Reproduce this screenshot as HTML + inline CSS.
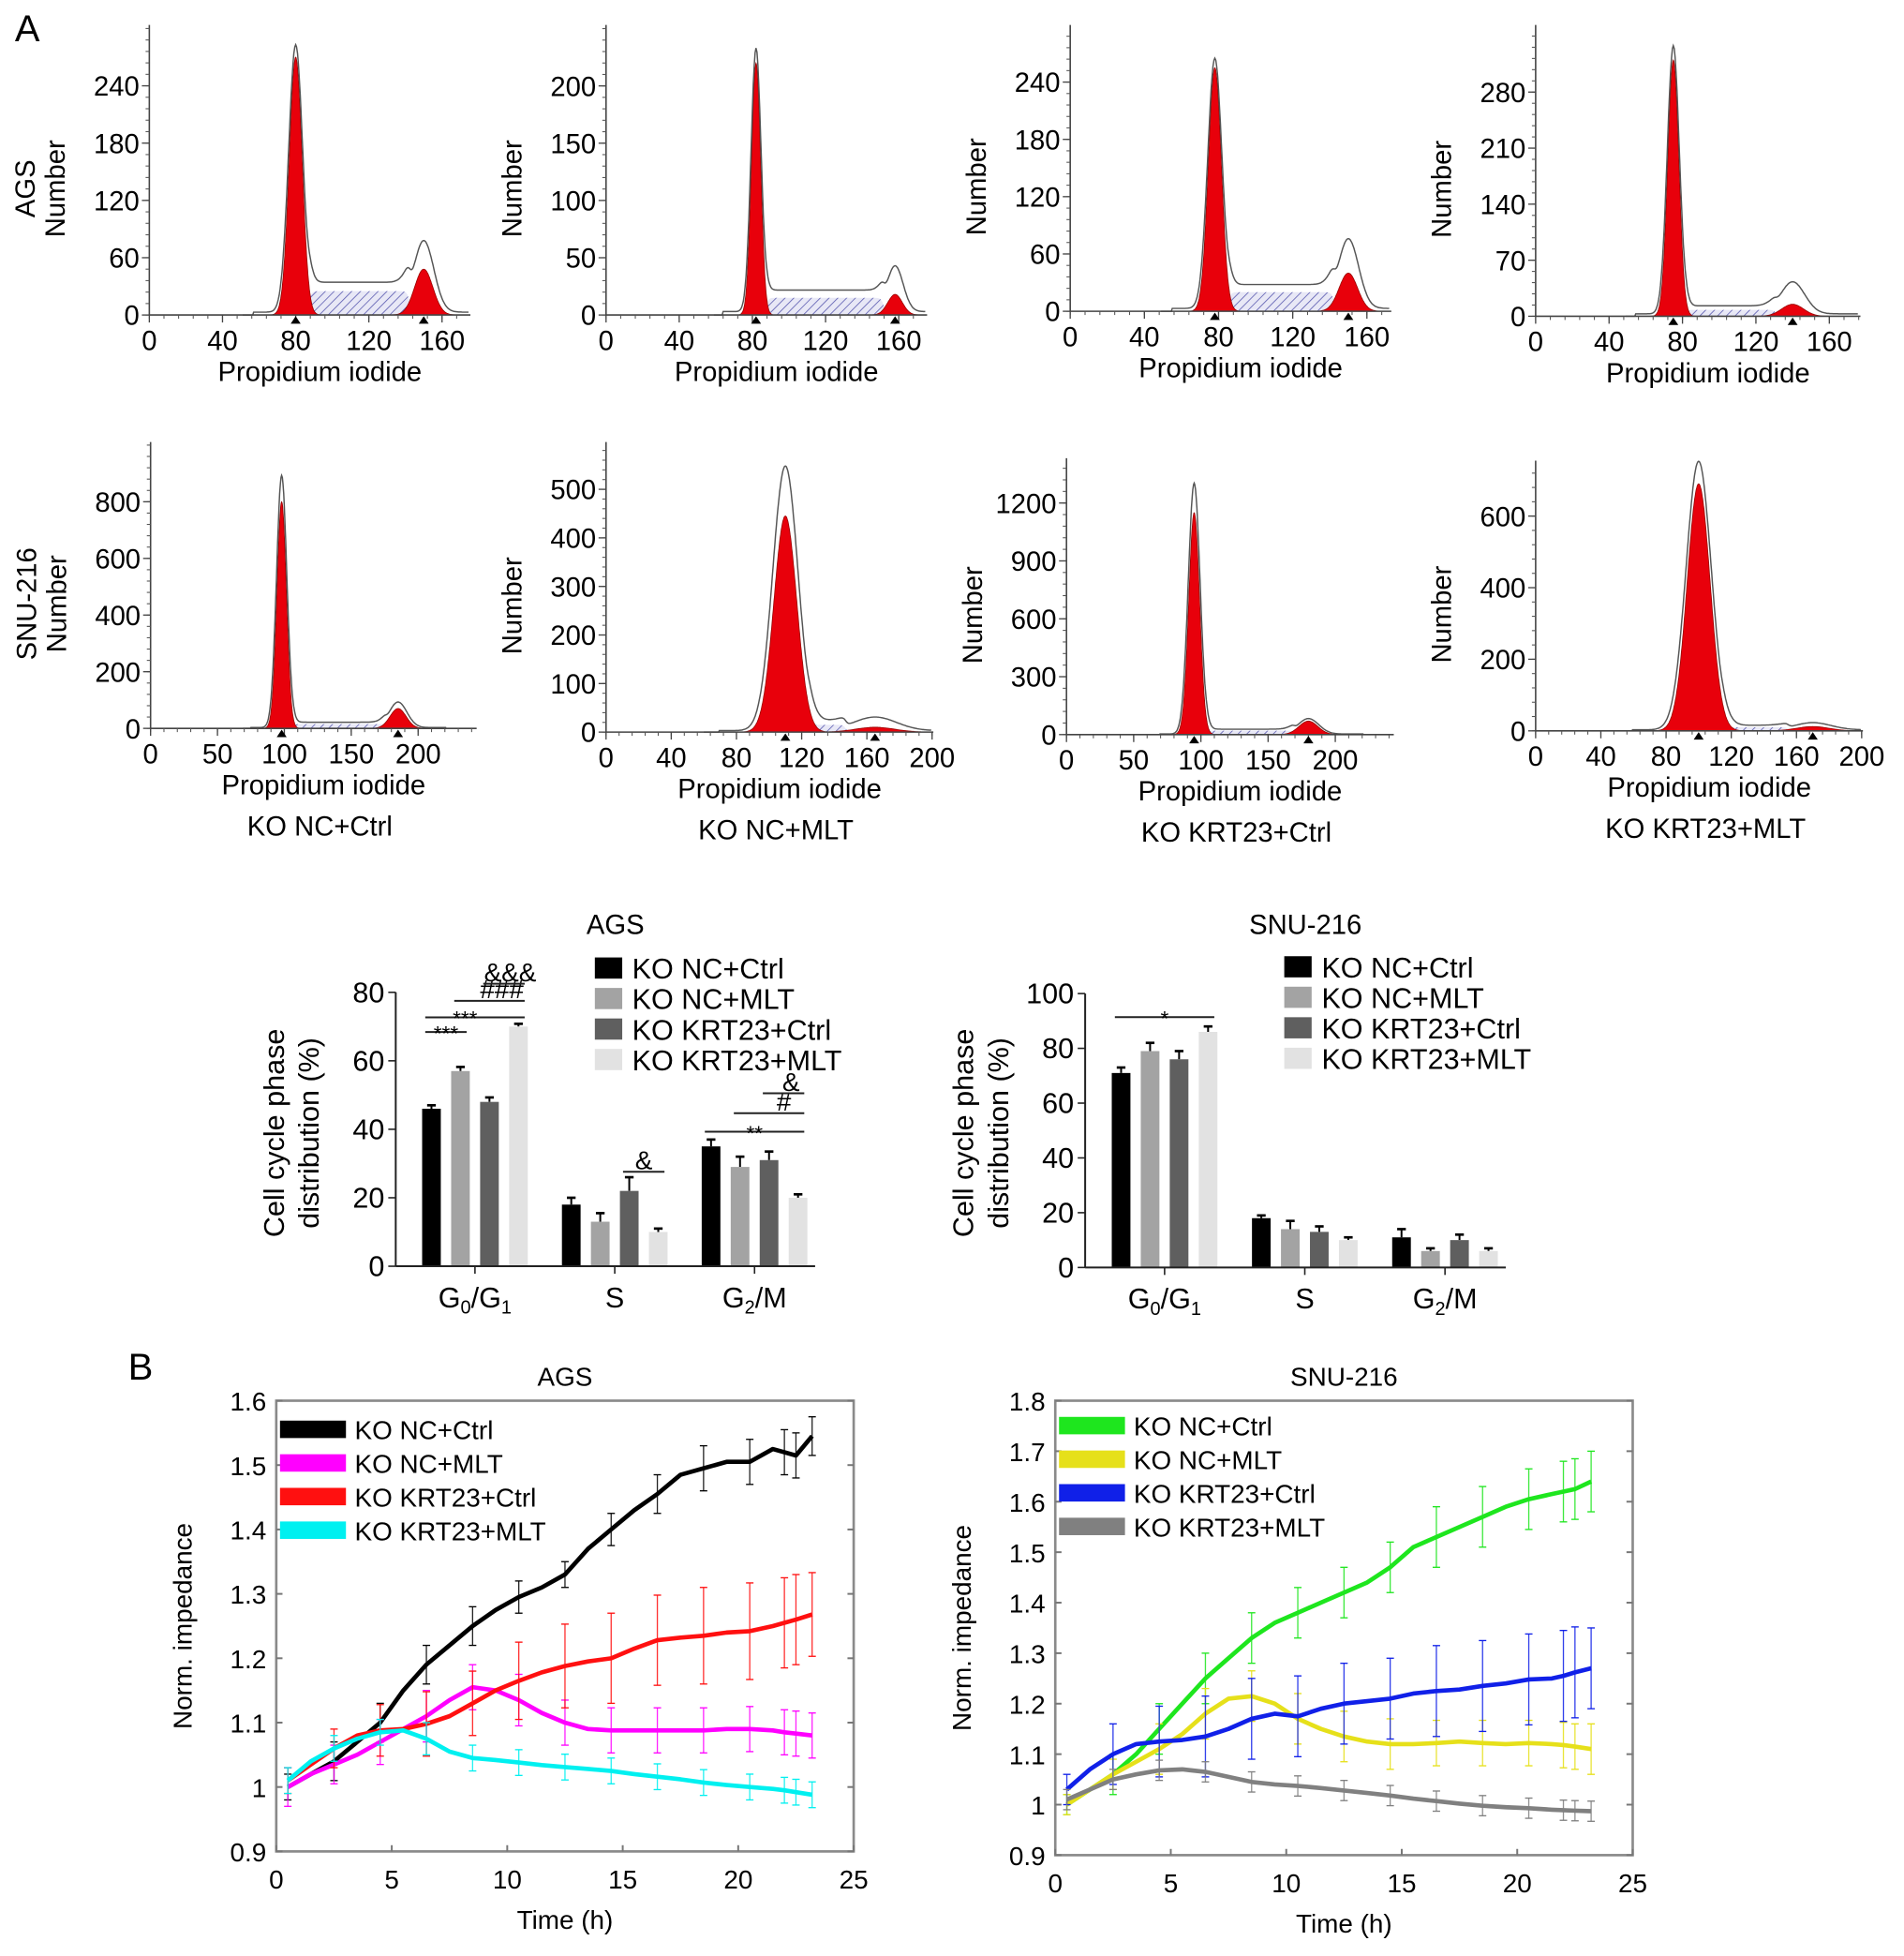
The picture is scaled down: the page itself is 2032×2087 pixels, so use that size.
<!DOCTYPE html>
<html><head><meta charset="utf-8">
<style>
html,body{margin:0;padding:0;background:#fff;}
svg{display:block;font-family:"Liberation Sans",Arial,sans-serif;}
</style></head>
<body>
<svg id="fig" width="2032" height="2087" viewBox="0 0 1530 1571" preserveAspectRatio="none" xmlns="http://www.w3.org/2000/svg">
<defs>
<pattern id="hatch" patternUnits="userSpaceOnUse" width="5" height="5" patternTransform="rotate(45)">
<rect width="5" height="5" fill="#e8e8f6"/>
<line x1="0" y1="0" x2="0" y2="5" stroke="#5a5ab0" stroke-width="1.2"/>
</pattern>
</defs>
<text x="12" y="33" font-size="30">A</text>
<text x="103" y="1108" font-size="30">B</text>
</svg>
<script>
// ---------- Histogram data (cell cycle fits) ----------
const histG1Mean=[80,82,78,75,98,110,95,100];
const histG1Height=[270,220,255,320,800,445,1150,690];
const histG1Outline=[280,230,262,335,890,545,1300,750];
const histG1Sd=[3.5,2.5,3.5,3,3.5,7,4,7];
const histG2Mean=[150,158,150,140,185,165,180,170];
const histG2Height=[48,18,40,15,70,10,70,12];
const histG2Outline=[75,40,73,40,90,28,80,20];
const histG2Sd=[5,4,5,6,6,12,7,10];
const histSLevel=[25,15,20,8,15,15,20,10];
const histXTicks=[[0,40,80,120,160],[0,40,80,120,160],[0,40,80,120,160],[0,40,80,120,160],[0,50,100,150,200],[0,40,80,120,160,200],[0,50,100,150,200],[0,40,80,120,160,200]];
const histYTicks=[[0,60,120,180,240],[0,50,100,150,200],[0,60,120,180,240],[0,70,140,210,280],[0,200,400,600,800],[0,100,200,300,400,500],[0,300,600,900,1200],[0,200,400,600]];
const histGroups=['','','','','KO NC+Ctrl','KO NC+MLT','KO KRT23+Ctrl','KO KRT23+MLT'];

// ---------- Bar chart data ----------
const barCategories=['G0/G1','S','G2/M'];
const barSeries=['KO NC+Ctrl','KO NC+MLT','KO KRT23+Ctrl','KO KRT23+MLT'];
const agsBarValues=[[46,57,48,70],[18,13,22,10],[35,29,31,20]];
const agsBarErrors=[[1,1.2,1.3,0.8],[2,2.5,4,1],[2,3,2.5,1]];
const snuBarValues=[[71,79,76,86],[18,14,13,10],[11,6,10,6]];
const snuBarErrors=[[2,3,3,2],[1,3,2,1],[3,1,2,1]];
const agsBarTicks=[0,20,40,60,80];
const snuBarTicks=[0,20,40,60,80,100];

// ---------- Impedance data ----------
const timeH=[0.5,1.5,2.5,3.5,4.5,5.5,6.5,7.5,8.5,9.5,10.5,11.5,12.5,13.5,14.5,15.5,16.5,17.5,18.5,19.5,20.5,21.5,22,22.5,23.2];
const agsNcCtrl=[1.0,1.02,1.04,1.07,1.1,1.15,1.19,1.22,1.25,1.275,1.295,1.31,1.33,1.37,1.40,1.43,1.455,1.485,1.495,1.505,1.505,1.525,1.52,1.515,1.545];
const agsNcMlt=[1.0,1.02,1.035,1.05,1.07,1.09,1.11,1.135,1.155,1.15,1.135,1.115,1.10,1.09,1.088,1.088,1.088,1.088,1.088,1.09,1.09,1.088,1.085,1.083,1.08];
const agsKrtCtrl=[1.01,1.035,1.06,1.08,1.088,1.09,1.098,1.11,1.13,1.15,1.165,1.178,1.188,1.195,1.2,1.215,1.228,1.232,1.235,1.24,1.242,1.25,1.255,1.26,1.268];
const agsKrtMlt=[1.01,1.04,1.06,1.075,1.085,1.088,1.075,1.055,1.045,1.042,1.038,1.034,1.031,1.028,1.025,1.02,1.016,1.012,1.007,1.003,1.0,0.997,0.995,0.992,0.988];
const agsErrNcCtrl=[0.02,0.02,0.03,0.03,0.03,0.03,0.03,0.02,0.03,0.025,0.025,0.02,0.02,0.02,0.025,0.025,0.03,0.035,0.035,0.035,0.035,0.03,0.035,0.035,0.03];
const agsErrNcMlt=[0.03,0.03,0.03,0.03,0.035,0.035,0.04,0.035,0.035,0.04,0.04,0.035,0.035,0.035,0.035,0.03,0.035,0.035,0.035,0.035,0.035,0.035,0.035,0.035,0.035];
const agsErrKrtCtrl=[0.02,0.03,0.03,0.04,0.04,0.04,0.05,0.05,0.05,0.06,0.06,0.06,0.065,0.065,0.07,0.07,0.07,0.07,0.075,0.075,0.075,0.075,0.07,0.07,0.065];
const agsErrKrtMlt=[0.02,0.02,0.02,0.02,0.02,0.02,0.025,0.02,0.02,0.02,0.02,0.02,0.02,0.02,0.02,0.02,0.02,0.02,0.02,0.02,0.02,0.02,0.02,0.02,0.02];
const snuNcCtrl=[1.0,1.03,1.06,1.1,1.15,1.2,1.25,1.29,1.33,1.36,1.38,1.4,1.42,1.44,1.47,1.51,1.53,1.55,1.57,1.59,1.605,1.615,1.62,1.625,1.64];
const snuNcMlt=[1.0,1.03,1.06,1.085,1.11,1.14,1.18,1.21,1.215,1.2,1.17,1.15,1.135,1.125,1.12,1.12,1.122,1.125,1.122,1.12,1.122,1.12,1.118,1.115,1.11];
const snuKrtCtrl=[1.03,1.07,1.1,1.12,1.125,1.128,1.135,1.15,1.17,1.18,1.175,1.19,1.2,1.205,1.21,1.22,1.225,1.228,1.235,1.24,1.248,1.25,1.255,1.262,1.27];
const snuKrtMlt=[1.01,1.03,1.05,1.06,1.068,1.07,1.065,1.055,1.045,1.04,1.037,1.033,1.028,1.023,1.018,1.012,1.007,1.002,0.998,0.995,0.993,0.99,0.989,0.988,0.987];
const snuErrNcCtrl=[0.02,0.03,0.04,0.04,0.05,0.05,0.05,0.05,0.05,0.05,0.05,0.05,0.05,0.05,0.05,0.05,0.06,0.06,0.06,0.06,0.06,0.06,0.06,0.06,0.06];
const snuErrNcMlt=[0.02,0.03,0.03,0.04,0.05,0.06,0.05,0.05,0.05,0.05,0.05,0.05,0.05,0.05,0.05,0.045,0.045,0.045,0.045,0.045,0.045,0.045,0.045,0.045,0.05];
const snuErrKrtCtrl=[0.03,0.05,0.06,0.07,0.07,0.07,0.08,0.08,0.08,0.08,0.08,0.08,0.08,0.08,0.08,0.08,0.09,0.09,0.09,0.09,0.09,0.09,0.09,0.09,0.08];
const snuErrKrtMlt=[0.02,0.02,0.02,0.02,0.02,0.02,0.02,0.02,0.02,0.02,0.02,0.02,0.02,0.02,0.02,0.02,0.02,0.02,0.02,0.02,0.02,0.02,0.02,0.02,0.02];
const agsImpTicks=[0.9,1,1.1,1.2,1.3,1.4,1.5,1.6];
const snuImpTicks=[0.9,1,1.1,1.2,1.3,1.4,1.5,1.6,1.7,1.8];
const timeTicks=[0,5,10,15,20,25];

const NS='http://www.w3.org/2000/svg';
const svg=document.getElementById('fig');
function mk(tag,attrs,parent){const e=document.createElementNS(NS,tag);for(const k in attrs)e.setAttribute(k,attrs[k]);(parent||svg).appendChild(e);return e;}
function tx(x,y,s,size,anchor,parent){const e=mk('text',{x:x,y:y,'font-size':size,'text-anchor':anchor||'middle'},parent);e.textContent=s;return e;}
function vtx(x,y,s,size,parent){const e=mk('text',{x:0,y:0,'font-size':size,'text-anchor':'middle',transform:'translate('+x+','+y+') rotate(-90)'},parent);e.textContent=s;return e;}
function gauss(u,m,s){return Math.exp(-0.5*((u-m)/s)*((u-m)/s));}
function sig(v){return 1/(1+Math.exp(-v));}

const hLayout=[
 {ox:120,oy:253,sx:1.47,sy:0.767,end:378,top:20},
 {ox:487,oy:253,sx:1.47,sy:0.92,end:745,top:20},
 {ox:860,oy:250,sx:1.49,sy:0.767,end:1118,top:20},
 {ox:1234,oy:254,sx:1.475,sy:0.643,end:1495,top:20},
 {ox:121,oy:585,sx:1.075,sy:0.2275,end:383,top:355},
 {ox:487,oy:588,sx:1.31,sy:0.39,end:750,top:355},
 {ox:857,oy:590,sx:1.08,sy:0.155,end:1120,top:368},
 {ox:1234,oy:587,sx:1.31,sy:0.2875,end:1497,top:370}
];
for(let i=0;i<8;i++){
 const L=hLayout[i];
 const g=mk('g',{});
 
 
 const X=u=>L.ox+u*L.sx, Y=c=>L.oy-c*L.sy;
 const uEnd=(L.end-L.ox)/L.sx-1;
 const m1=histG1Mean[i],s1=histG1Sd[i],m2=histG2Mean[i],s2=histG2Sd[i];
 const sLev=histSLevel[i];
 const sFn=u=>sLev*sig((u-(m1+2*s1))*1.2)*sig(((m2-1.5*s2)-u)*1.2);
 let sEnd=Math.min(uEnd,m2+3*s2);
 let dS='M'+X(m1)+','+Y(0);
 for(let u=m1;u<=sEnd;u+=0.5)dS+=' L'+X(u).toFixed(1)+','+Y(sFn(u)).toFixed(1);
 dS+=' L'+X(sEnd)+','+Y(0)+'Z';
 const sp=mk('path',{d:dS,fill:'url(#hatch)',stroke:'none'},g);
 
 
 [[m1,s1,histG1Height[i],'g1-peak'],[m2,s2,histG2Height[i],'g2-peak']].forEach(p=>{
  const a=p[0]-4*p[1], b=Math.min(uEnd,p[0]+4*p[1]);
  let d='M'+X(a)+','+Y(0);
  for(let u=a;u<=b;u+=0.25)d+=' L'+X(u).toFixed(1)+','+Y(p[2]*gauss(u,p[0],p[1])).toFixed(1);
  d+=' L'+X(b)+','+Y(0)+'Z';
  const r=mk('path',{d:d,fill:'#e8000b',stroke:'#900','stroke-width':0.6},g);
  
  
 });
 let d='';
 const uStart=Math.max(0,m1-6*s1-8);
 for(let u=uStart;u<=Math.min(uEnd,m2+5*s2+6);u+=0.5){
  const c=histG1Outline[i]*gauss(u,m1,s1*1.1)+histG2Outline[i]*gauss(u,m2,s2*1.1)+sFn(u)*1.25+(u>m1-5*s1-6?3:0);
  d+=(d?' L':'M')+X(u).toFixed(1)+','+Y(c).toFixed(1);
 }
 const ol=mk('path',{d:d,fill:'none',stroke:'#555','stroke-width':1.1},g);
 
 
 mk('line',{x1:L.ox,y1:L.top,x2:L.ox,y2:L.oy,stroke:'#444','stroke-width':1.2},g);
 mk('line',{x1:L.ox,y1:L.oy,x2:L.end,y2:L.oy,stroke:'#444','stroke-width':1.2},g);
 const yt=histYTicks[i],ystep=yt[1]-yt[0];
 for(let c=0;Y(c)>=L.top;c+=ystep/5)mk('line',{x1:L.ox-3,y1:Y(c),x2:L.ox,y2:Y(c),stroke:'#555','stroke-width':0.8},g);
 yt.forEach(c=>{mk('line',{x1:L.ox-6,y1:Y(c),x2:L.ox,y2:Y(c),stroke:'#444','stroke-width':1},g);tx(L.ox-8,Y(c)+8,String(c),22,'end',g);});
 const xt=histXTicks[i],xstep=xt[1]-xt[0];
 for(let u=0;X(u)<=L.end;u+=xstep/5)mk('line',{x1:X(u),y1:L.oy,x2:X(u),y2:L.oy+3,stroke:'#555','stroke-width':0.8},g);
 xt.forEach(u=>{mk('line',{x1:X(u),y1:L.oy,x2:X(u),y2:L.oy+6,stroke:'#444','stroke-width':1},g);tx(X(u),L.oy+28,String(u),22,'middle',g);});
 [m1,m2].forEach(m=>mk('path',{d:'M'+(X(m)-4)+','+(L.oy+7)+' L'+(X(m)+4)+','+(L.oy+7)+' L'+X(m)+','+(L.oy+1)+'Z',fill:'#000'},g));
 const xl=tx((L.ox+L.end)/2+8,L.oy+53,'Propidium iodide',22,'middle',g);
 
 
 const yl=vtx(L.ox-68,(L.top+L.oy)/2+15,'Number',22,g);
 
 
 if(i===0)vtx(L.ox-92,(L.top+L.oy)/2+15,'AGS',22,g);
 if(i===4)vtx(L.ox-92,(L.top+L.oy)/2+15,'SNU-216',22,g);
 if(histGroups[i]){const gl=tx((L.ox+L.end)/2+5,L.oy+86,histGroups[i],22,'middle',g);
  
  }
}

// ---------- Bar charts ----------
const barColors=['#000','#a3a3a3','#5f5f5f','#e2e2e2'];
function catLabel(x,y,c,g){
 const e=mk('text',{x:x,y:y,'font-size':23,'text-anchor':'middle'},g);
 if(c==='S'){e.textContent='S';return;}
 const parts=c==='G0/G1'?[['G',0],['0',1],['/G',0],['1',1]]:[['G',0],['2',1],['/M',0]];
 parts.forEach(p=>{const t=mk('tspan',{'font-size':p[1]?15:23,dy:p[1]?5:(e.childNodes.length?-5:0)},e);t.textContent=p[0];});
}
function barChart(cfg){
 const g=mk('g',{});
 
 
 const Y=v=>cfg.y0-v*cfg.sy;
 const bw=(cfg.x1-cfg.x0)/barCategories.length;
 const bx=(ci,j)=>cfg.x0+bw*(ci+0.5)+7.5+(j-1.5)*23.3;
 barCategories.forEach((c,ci)=>{
  cfg.vals[ci].forEach((v,j)=>{
   const e=cfg.errs[ci][j];
   mk('line',{x1:bx(ci,j),y1:Y(v),x2:bx(ci,j),y2:Y(v+e),stroke:'#000','stroke-width':1.5},g);
   mk('line',{x1:bx(ci,j)-3.5,y1:Y(v+e),x2:bx(ci,j)+3.5,y2:Y(v+e),stroke:'#000','stroke-width':2},g);
   const r=mk('rect',{x:bx(ci,j)-7.5,y:Y(v),width:15,height:v*cfg.sy,fill:barColors[j]},g);
   
   
  });
  mk('line',{x1:cfg.x0+bw*(ci+0.5)+7.5,y1:cfg.y0,x2:cfg.x0+bw*(ci+0.5)+7.5,y2:cfg.y0+6,stroke:'#222','stroke-width':1.2},g);
  catLabel(cfg.x0+bw*(ci+0.5)+7.5,cfg.y0+33,c,g);
 });
 mk('line',{x1:cfg.x0,y1:Y(cfg.ticks[cfg.ticks.length-1]),x2:cfg.x0,y2:cfg.y0,stroke:'#222','stroke-width':1.5},g);
 mk('line',{x1:cfg.x0,y1:cfg.y0,x2:cfg.x1,y2:cfg.y0,stroke:'#222','stroke-width':1.5},g);
 cfg.ticks.forEach(t=>{mk('line',{x1:cfg.x0-6,y1:Y(t),x2:cfg.x0,y2:Y(t),stroke:'#222','stroke-width':1.2},g);tx(cfg.x0-9,Y(t)+8,String(t),23,'end',g);});
 tx((cfg.x0+cfg.x1)/2+8,750,cfg.title,22,'middle',g);
 vtx(cfg.x0-90,910,'Cell cycle phase',23,g);
 vtx(cfg.x0-62,910,'distribution (%)',23,g);
 barSeries.forEach((s,j)=>{
  const lg=mk('g',{},g);
  
  
  mk('rect',{x:cfg.lx,y:cfg.ly+j*24.5-9,width:22,height:17,fill:barColors[j]},lg);
  tx(cfg.lx+30,cfg.ly+j*24.5+8,s,23,'start',lg);
 });
 cfg.sig.forEach(a=>{
  const xa=bx(a[0],a[1])-5,xb=bx(a[0],a[2])+5;
  mk('line',{x1:xa,y1:Y(a[3]),x2:xb,y2:Y(a[3]),stroke:'#222','stroke-width':1.5},g);
  const star=a[4].indexOf('*')>=0;
  tx((xa+xb)/2+(a[5]||0),Y(a[3])+(star?7:-2),a[4],star?17:21,'middle',g);
 });
}
barChart({name:'ags-bar-chart',title:'AGS',x0:318,x1:655,y0:1017,sy:2.75,ticks:agsBarTicks,vals:agsBarValues,errs:agsBarErrors,lx:478,ly:778,
 sig:[[0,0,1,68.4,'***'],[0,0,3,72.7,'***',-8],[0,1,3,77.5,'###',10],[0,2,3,82.5,'&&&',5],[1,2,3,27.6,'&'],[2,0,3,39.3,'**'],[2,1,3,44.7,'#',12],[2,2,3,50.5,'&',6]]});
barChart({name:'snu-bar-chart',title:'SNU-216',x0:872,x1:1210,y0:1018,sy:2.2,ticks:snuBarTicks,vals:snuBarValues,errs:snuBarErrors,lx:1032,ly:777,
 sig:[[0,0,3,91.4,'*']]});

// ---------- Impedance charts ----------
function impChart(cfg){
 const g=mk('g',{});
 
 
 const X=t=>cfg.x0+(t/25)*(cfg.x1-cfg.x0);
 const Y=v=>cfg.y1-(v-cfg.ticks[0])/(cfg.ticks[cfg.ticks.length-1]-cfg.ticks[0])*(cfg.y1-cfg.y0);
 mk('rect',{x:cfg.x0,y:cfg.y0,width:cfg.x1-cfg.x0,height:cfg.y1-cfg.y0,fill:'none',stroke:'#8a8a8a','stroke-width':2},g);
 cfg.ticks.forEach(t=>{
  mk('line',{x1:cfg.x0,y1:Y(t),x2:cfg.x0+5,y2:Y(t),stroke:'#777','stroke-width':1.5},g);
  mk('line',{x1:cfg.x1,y1:Y(t),x2:cfg.x1-5,y2:Y(t),stroke:'#777','stroke-width':1.5},g);
  tx(cfg.x0-8,Y(t)+8,String(t),21,'end',g);
 });
 timeTicks.forEach(t=>{
  mk('line',{x1:X(t),y1:cfg.y1,x2:X(t),y2:cfg.y1-5,stroke:'#777','stroke-width':1.5},g);
  tx(X(t),cfg.y1+30,String(t),21,'middle',g);
 });
 tx((cfg.x0+cfg.x1)/2,cfg.y0-12,cfg.title,21,'middle',g);
 tx((cfg.x0+cfg.x1)/2,cfg.y1+62,'Time (h)',21,'middle',g);
 vtx(cfg.x0-68,(cfg.y0+cfg.y1)/2,'Norm. impedance',21,g);
 cfg.series.forEach((s,k)=>{
  const sg=mk('g',{},g);
  
  
  timeH.forEach((t,i)=>{
   if(i%2!==0&&i!==timeH.length-2)return;
   const v=s.v[i],e=s.e[i];
   mk('line',{x1:X(t),y1:Y(v-e),x2:X(t),y2:Y(v+e),stroke:s.c,'stroke-width':1,opacity:0.85},sg);
   mk('line',{x1:X(t)-3,y1:Y(v-e),x2:X(t)+3,y2:Y(v-e),stroke:s.c,'stroke-width':1},sg);
   mk('line',{x1:X(t)-3,y1:Y(v+e),x2:X(t)+3,y2:Y(v+e),stroke:s.c,'stroke-width':1},sg);
  });
  const pts=timeH.map((t,i)=>X(t).toFixed(1)+','+Y(s.v[i]).toFixed(1)).join(' ');
  const pl=mk('polyline',{points:pts,fill:'none',stroke:s.c,'stroke-width':3.5,'stroke-linejoin':'round'},sg);
  
  
 });
 cfg.series.forEach((s,k)=>{
  const lg=mk('g',{},g);
  
  
  const ly=cfg.ly+k*27;
  mk('rect',{x:cfg.x0+3,y:ly-7,width:53,height:14,fill:s.c},lg);
  tx(cfg.x0+63,ly+8,s.label,21,'start',lg);
 });
}
impChart({name:'ags-impedance-chart',title:'AGS',x0:222,x1:686,y0:1125,y1:1487,ticks:agsImpTicks,ly:1148,
 series:[{label:'KO NC+Ctrl',c:'#000',v:agsNcCtrl,e:agsErrNcCtrl},{label:'KO NC+MLT',c:'#ff00ff',v:agsNcMlt,e:agsErrNcMlt},
  {label:'KO KRT23+Ctrl',c:'#ff1010',v:agsKrtCtrl,e:agsErrKrtCtrl},{label:'KO KRT23+MLT',c:'#00f0f0',v:agsKrtMlt,e:agsErrKrtMlt}]});
impChart({name:'snu-impedance-chart',title:'SNU-216',x0:848,x1:1312,y0:1125,y1:1490,ticks:snuImpTicks,ly:1145,
 series:[{label:'KO NC+Ctrl',c:'#1ee61e',v:snuNcCtrl,e:snuErrNcCtrl},{label:'KO NC+MLT',c:'#e6e01a',v:snuNcMlt,e:snuErrNcMlt},
  {label:'KO KRT23+Ctrl',c:'#1020e8',v:snuKrtCtrl,e:snuErrKrtCtrl},{label:'KO KRT23+MLT',c:'#808080',v:snuKrtMlt,e:snuErrKrtMlt}]});
</script>
</body></html>
